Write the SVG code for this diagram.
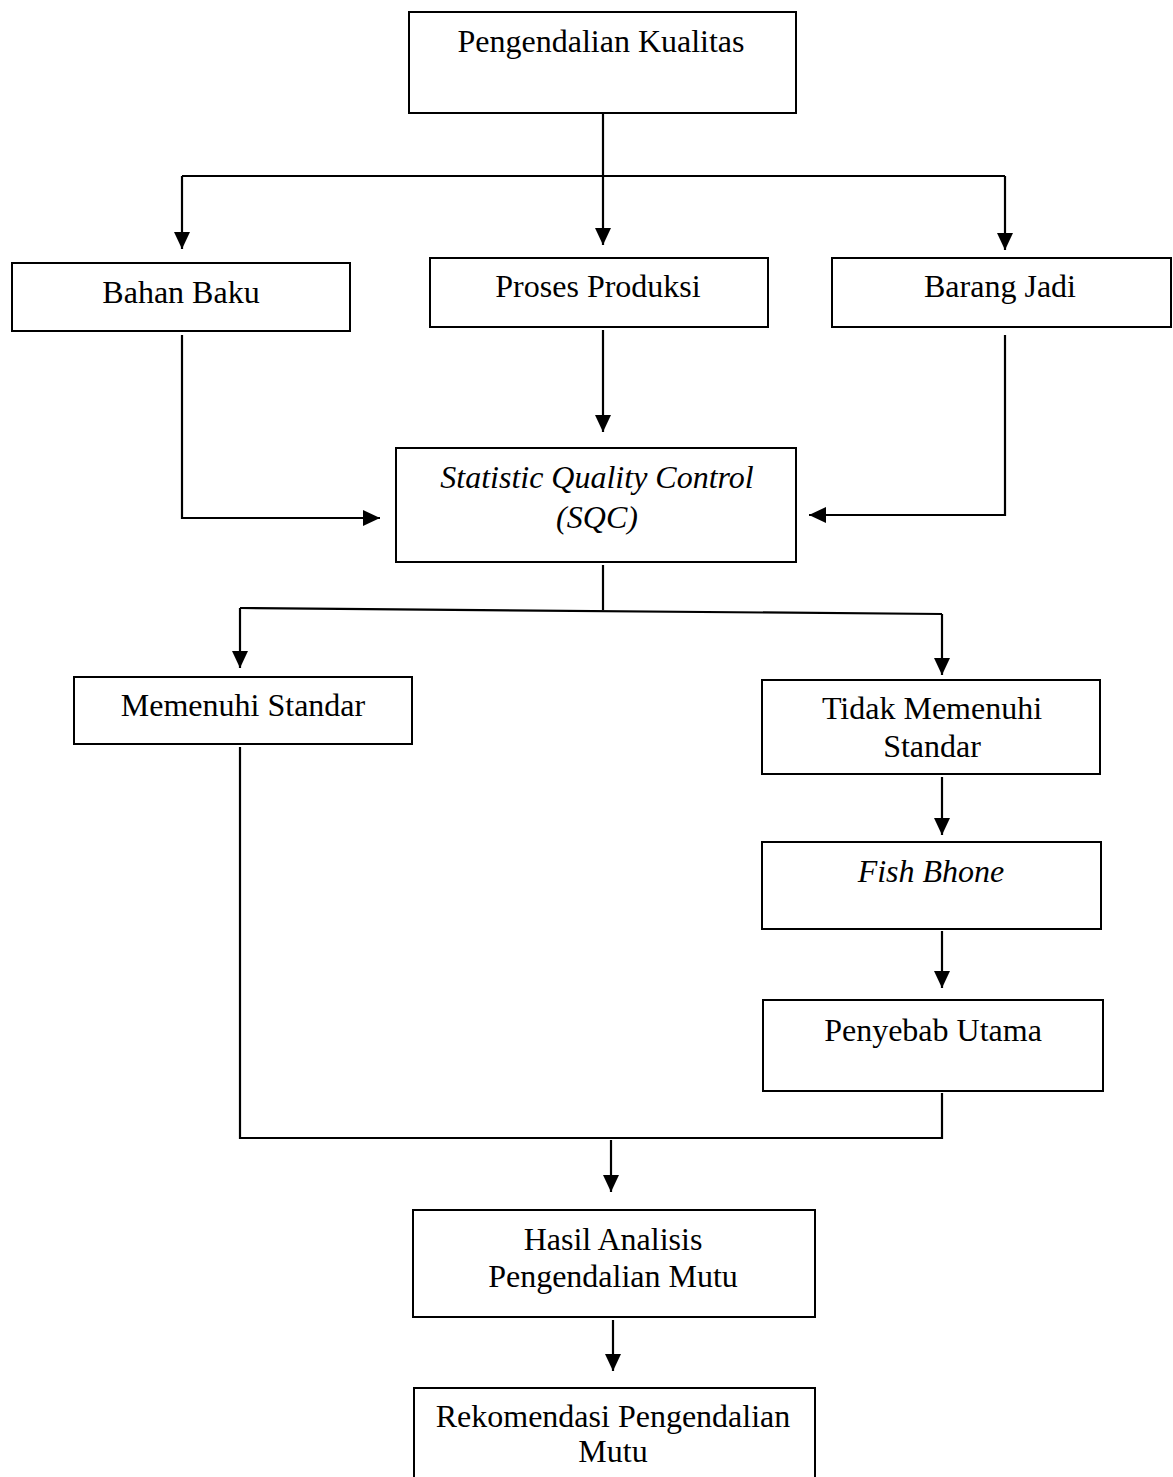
<svg xmlns="http://www.w3.org/2000/svg" width="1173" height="1477" viewBox="0 0 1173 1477">
<style>
.box{fill:#fff;stroke:#000;stroke-width:2}
.t{font-family:"Liberation Serif","Times New Roman",serif;font-size:32px;fill:#000;text-anchor:middle}
.i{font-style:italic}
.c{fill:none;stroke:#000;stroke-width:2.2}
.a{marker-end:url(#ah)}
</style>
<defs>
<marker id="ah" markerUnits="userSpaceOnUse" markerWidth="17" markerHeight="16" refX="17" refY="8" orient="auto">
<path d="M0,0 L17,8 L0,16 z" fill="#000"/>
</marker>
</defs>
<rect width="1173" height="1477" fill="#fff"/>
<g id="connectors">
<path class="c a" d="M603,113 V245"/>
<path class="c" d="M182,176 H1005"/>
<path class="c a" d="M182,176 V249"/>
<path class="c a" d="M1005,176 V250"/>
<path class="c a" d="M182,335 V518 H380"/>
<path class="c a" d="M603,330 V432"/>
<path class="c a" d="M1005,335 V515 H809"/>
<path class="c" d="M603,565 V610"/>
<path class="c" d="M240,608 L942,614"/>
<path class="c a" d="M240,608 V668"/>
<path class="c a" d="M942,614 V675"/>
<path class="c a" d="M942,777 V835"/>
<path class="c a" d="M942,931 V988"/>
<path class="c" d="M240,747 V1138 H942 V1093"/>
<path class="c a" d="M611,1140 V1192"/>
<path class="c a" d="M613,1320 V1371"/>
</g>
<g id="n-pengendalian">
<rect class="box" x="409" y="12" width="387" height="101"/>
<text class="t" x="601" y="52">Pengendalian Kualitas</text>
</g>
<g id="n-bahan">
<rect class="box" x="12" y="263" width="338" height="68"/>
<text class="t" x="181" y="303">Bahan Baku</text>
</g>
<g id="n-proses">
<rect class="box" x="430" y="258" width="338" height="69"/>
<text class="t" x="598" y="297">Proses Produksi</text>
</g>
<g id="n-barang">
<rect class="box" x="832" y="258" width="339" height="69"/>
<text class="t" x="1000" y="297">Barang Jadi</text>
</g>
<g id="n-sqc">
<rect class="box" x="396" y="448" width="400" height="114"/>
<text class="t i" x="597" y="488">Statistic Quality Control</text>
<text class="t i" x="597" y="528">(SQC)</text>
</g>
<g id="n-memenuhi">
<rect class="box" x="74" y="677" width="338" height="67"/>
<text class="t" x="243" y="716">Memenuhi Standar</text>
</g>
<g id="n-tidak">
<rect class="box" x="762" y="680" width="338" height="94"/>
<text class="t" x="932" y="719">Tidak Memenuhi</text>
<text class="t" x="932" y="757">Standar</text>
</g>
<g id="n-fish">
<rect class="box" x="762" y="842" width="339" height="87"/>
<text class="t i" x="931" y="882">Fish Bhone</text>
</g>
<g id="n-penyebab">
<rect class="box" x="763" y="1000" width="340" height="91"/>
<text class="t" x="933" y="1041">Penyebab Utama</text>
</g>
<g id="n-hasil">
<rect class="box" x="413" y="1210" width="402" height="107"/>
<text class="t" x="613" y="1250">Hasil Analisis</text>
<text class="t" x="613" y="1287">Pengendalian Mutu</text>
</g>
<g id="n-rekomendasi">
<rect class="box" x="414" y="1388" width="401" height="100"/>
<text class="t" x="613" y="1427">Rekomendasi Pengendalian</text>
<text class="t" x="613" y="1462">Mutu</text>
</g>
</svg>
